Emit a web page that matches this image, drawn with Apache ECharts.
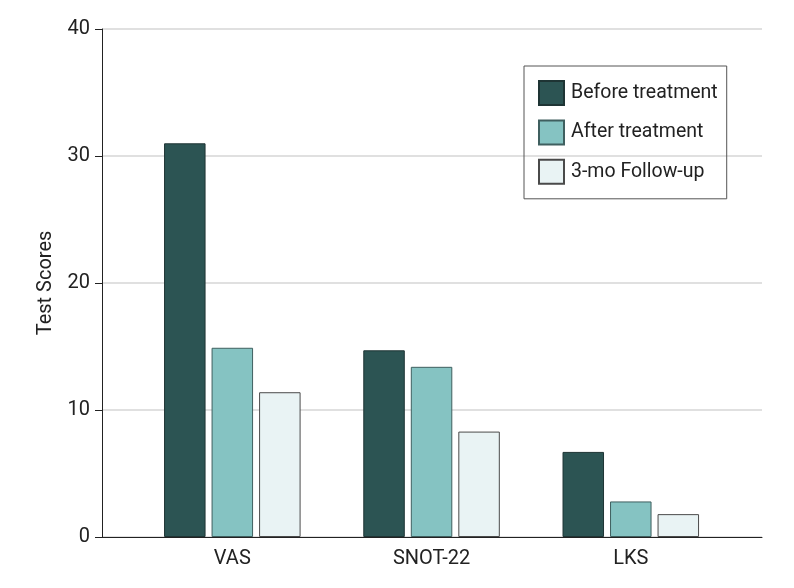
<!DOCTYPE html>
<html>
<head>
<meta charset="utf-8">
<script src="https://cdn.jsdelivr.net/npm/echarts@6/dist/echarts.min.js"></script>
<style>
html,body{margin:0;padding:0;background:#fff;}
#chart{width:794px;height:588px;}
</style>
</head>
<body>
<div id="chart"></div>
<script>
const categories = ['VAS', 'SNOT-22', 'LKS'];
const seriesNames = ['Before treatment', 'After treatment', '3-mo Follow-up'];
const beforeTreatment = [31.0, 14.7, 6.7];
const afterTreatment = [14.9, 13.4, 2.8];
const followUp = [11.4, 8.3, 1.8];
const yTicks = [0, 10, 20, 30, 40];

const colors = ['#2c5453', '#85c3c2', '#e9f3f4'];
const borders = ['#1e3434', '#3f5f5f', '#4a4a4a'];
const font = 'Roboto';
const values = [beforeTreatment, afterTreatment, followUp];

const chart = echarts.init(document.getElementById('chart'), null, {renderer: 'canvas'});
chart.setOption({
  animation: false,
  backgroundColor: '#ffffff',
  grid: [
    {left: 102, right: 32, top: 29, bottom: 51},
    {left: 132.7, right: 63.6, top: 29, bottom: 51}
  ],
  legend: {
    orient: 'vertical',
    left: 524,
    top: 66,
    itemWidth: 25,
    itemHeight: 24,
    itemGap: 13.4,
    padding: [14, 9, 14, 14],
    borderColor: '#555',
    borderWidth: 1,
    icon: 'rect',
    data: seriesNames,
    textStyle: {fontFamily: font, fontSize: 19.5, color: '#222', padding: [0, 0, 0, 2]}
  },
  xAxis: [
    {
      gridIndex: 0, type: 'category', data: categories, boundaryGap: true,
      axisLine: {show: true, lineStyle: {color: '#222', width: 1}},
      axisTick: {show: false}, axisLabel: {show: false}, splitLine: {show: false}
    },
    {
      gridIndex: 1, type: 'category', data: categories, boundaryGap: true,
      axisLine: {show: false}, axisTick: {show: false},
      axisLabel: {fontFamily: font, fontSize: 20, color: '#222', margin: 12},
      splitLine: {show: false}
    }
  ],
  yAxis: [
    {
      gridIndex: 0, type: 'value', min: yTicks[0], max: yTicks[yTicks.length - 1], interval: 10,
      name: 'Test Scores', nameLocation: 'middle', nameGap: 46,
      nameTextStyle: {fontFamily: font, fontSize: 20, color: '#222'},
      axisLine: {show: true, lineStyle: {color: '#222', width: 1}},
      axisTick: {show: true, length: 7, lineStyle: {color: '#222'}},
      axisLabel: {fontFamily: font, fontSize: 20, color: '#222', margin: 12},
      splitLine: {show: true, lineStyle: {color: '#d6d6d6', width: 1.5}}
    },
    {
      gridIndex: 1, type: 'value', min: yTicks[0], max: yTicks[yTicks.length - 1], interval: 10,
      show: false, splitLine: {show: false}
    }
  ],
  series: seriesNames.map((name, i) => ({
    name: name,
    type: 'bar',
    xAxisIndex: 1,
    yAxisIndex: 1,
    data: values[i],
    barWidth: 41.5,
    barGap: '14.5%',
    itemStyle: {color: colors[i], borderColor: borders[i], borderWidth: 1}
  }))
});
</script>
</body>
</html>
